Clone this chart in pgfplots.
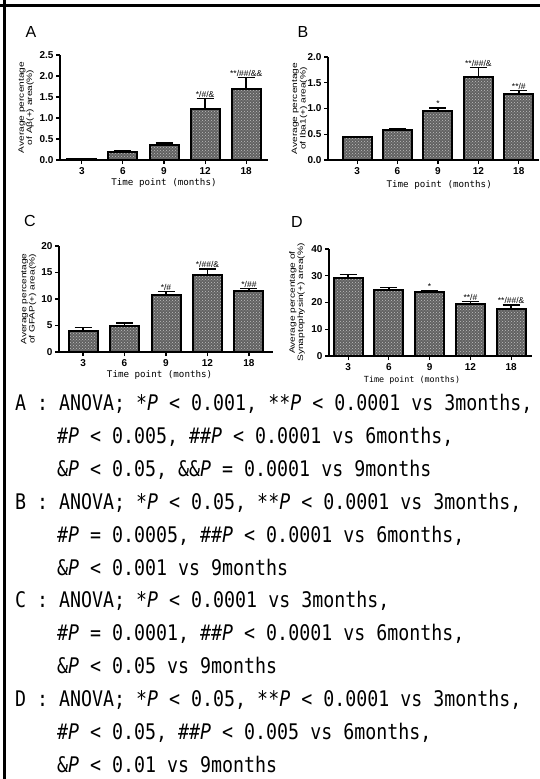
\documentclass[border=0pt]{standalone}
\usepackage{pgfplots}
\pgfplotsset{compat=1.18}
\usetikzlibrary{patterns}
\usepackage{fontspec}
\setmainfont{Liberation Sans}
\newfontfamily\labfont[FakeStretch=1.3]{Liberation Sans}
\newfontfamily\gothic[FakeStretch=0.85]{DejaVu Sans Mono}
\newfontfamily\axmono{DejaVu Sans Mono}

\pgfplotsset{
  panel/.style={
    scale only axis,
    axis lines*=left,
    axis line style={-, line width=1.3pt},
    ymin=0,
    xtick={0,1,2,3,4},
    xticklabels={3,6,9,12,18},
    tick align=outside,
    major tick length=4pt,
    tick style={line width=1.2pt, black},
    ticklabel style={font=\fontsize{10}{10}\selectfont\bfseries},
    yticklabel style={xshift=1pt},
    /pgf/number format/assume math mode=true,
    ylabel style={font=\labfont\fontsize{7.8}{8.3}\selectfont, align=center, anchor=center},
    xlabel style={font=\axmono\fontsize{9.2}{9.5}\selectfont, anchor=center},
    xlabel={Time point (months)},
    clip=false,
  },
  bars/.style={ybar, bar width=29pt, draw=black, line width=2pt,
    fill=black!62, postaction={pattern=crosshatch dots, pattern color=white!75!black},
    error bars/.cd, y dir=plus, y explicit,
    error bar style={line width=1.5pt, black},
    error mark options={rotate=90, mark size=8.5pt, line width=1.5pt, black}},
}
\tikzset{ann/.style={font=\fontsize{8.5}{9}\selectfont, anchor=south, inner sep=1pt}}

\begin{document}
\begin{tikzpicture}
\useasboundingbox (0,0) rectangle (540pt,-779pt);
\draw[line width=3pt] (0,-5pt) -- (540pt,-5pt);
\draw[line width=3pt] (4.5pt,0) -- (4.5pt,-779pt);

% panel letters
\node[font=\fontsize{16}{16}\selectfont] at (31pt,-32pt) {A};
\node[font=\fontsize{16}{16}\selectfont] at (303pt,-32pt) {B};
\node[font=\fontsize{16}{16}\selectfont] at (30pt,-221pt) {C};
\node[font=\fontsize{16}{16}\selectfont] at (297pt,-222pt) {D};

% A
\begin{axis}[panel, at={(60pt,-160pt)}, anchor=south west,
  width=208pt, height=105pt, xmin=-0.53, xmax=4.53,
  ymax=2.5, ytick={0,0.5,1,1.5,2,2.5},
  yticklabel style={/pgf/number format/.cd, fixed, fixed zerofill, precision=1},
  ylabel={Average percentage\\of Aβ(+) area(\%)},
  ylabel style={at={(axis description cs:-0.163,0.5)}},
  xlabel style={at={(axis description cs:0.5,0)}, yshift=-23pt}]
\addplot[bars] coordinates {
  (0,0.02) +- (0,0.01)
  (1,0.18) +- (0,0.03)
  (2,0.36) +- (0,0.04)
  (3,1.21) +- (0,0.25)
  (4,1.69) +- (0,0.27)
};
\node[ann] at (axis cs:3,1.46) {*/\#/\&};
\node[ann] at (axis cs:4,1.96) {**/\#\#/\&\&};
\end{axis}

% B
\begin{axis}[panel, at={(328pt,-160pt)}, anchor=south west,
  width=211pt, height=103pt, xmin=-0.72, xmax=4.5,
  ymax=2.0, ytick={0,0.5,1,1.5,2},
  yticklabel style={/pgf/number format/.cd, fixed, fixed zerofill, precision=1},
  ylabel={Average percentage\\of Iba1(+) area(\%)},
  ylabel style={at={(axis description cs:-0.135,0.5)}},
  xlabel style={at={(axis description cs:0.527,0)}, yshift=-25pt}]
\addplot[bars] coordinates {
  (0,0.45) +- (0,0.01)
  (1,0.58) +- (0,0.03)
  (2,0.95) +- (0,0.06)
  (3,1.61) +- (0,0.19)
  (4,1.28) +- (0,0.07)
};
\node[ann] at (axis cs:2,1.01) {*};
\node[ann] at (axis cs:3,1.80) {**/\#\#/\&};
\node[ann] at (axis cs:4,1.35) {**/\#};
\end{axis}

% C
\begin{axis}[panel, at={(59pt,-352pt)}, anchor=south west,
  width=214pt, height=106pt, xmin=-0.58, xmax=4.58,
  ymax=20, ytick={0,5,10,15,20},
  ylabel={Average percentage\\of GFAP(+) area(\%)},
  ylabel style={at={(axis description cs:-0.142,0.5)}},
  xlabel style={at={(axis description cs:0.47,0)}, yshift=-23pt}]
\addplot[bars] coordinates {
  (0,4.0) +- (0,0.6)
  (1,5.0) +- (0,0.5)
  (2,10.8) +- (0,0.6)
  (3,14.6) +- (0,1.1)
  (4,11.6) +- (0,0.4)
};
\node[ann] at (axis cs:2,11.4) {*/\#};
\node[ann] at (axis cs:3,15.7) {*/\#\#/\&};
\node[ann] at (axis cs:4,12.0) {*/\#\#};
\end{axis}

% D
\begin{axis}[panel, at={(329pt,-356pt)}, anchor=south west,
  width=202.5pt, height=107pt, xmin=-0.47, xmax=4.5,
  ymax=40, ytick={0,10,20,30,40},
  ylabel={Average percentage of\\Synaptophysin(+) area(\%)},
  ylabel style={at={(axis description cs:-0.158,0.5)}},
  xlabel style={font=\axmono\fontsize{8.4}{9}\selectfont, at={(axis description cs:0.41,0)}, yshift=-24pt}]
\addplot[bars] coordinates {
  (0,29.2) +- (0,1.3)
  (1,24.7) +- (0,0.9)
  (2,23.8) +- (0,0.6)
  (3,19.5) +- (0,0.9)
  (4,17.7) +- (0,1.3)
};
\node[ann] at (axis cs:2,24.4) {*};
\node[ann] at (axis cs:3,20.4) {**/\#};
\node[ann] at (axis cs:4,19.0) {**/\#\#/\&};
\end{axis}

% statistics text
\begin{scope}[every node/.style={anchor=base west, inner sep=0pt, font=\gothic\fontsize{21.5}{21.5}\selectfont}]
\node at (15pt,-410.5pt) {A : ANOVA; *\textit{P} < 0.001, **\textit{P} < 0.0001 vs 3months,};
\node at (57pt,-443.4pt) {\#\textit{P} < 0.005, \#\#\textit{P} < 0.0001 vs 6months,};
\node at (57pt,-476.3pt) {\&\textit{P} < 0.05, \&\&\textit{P} = 0.0001 vs 9months};
\node at (15pt,-509.2pt) {B : ANOVA; *\textit{P} < 0.05, **\textit{P} < 0.0001 vs 3months,};
\node at (57pt,-542.1pt) {\#\textit{P} = 0.0005, \#\#\textit{P} < 0.0001 vs 6months,};
\node at (57pt,-575.0pt) {\&\textit{P} < 0.001 vs 9months};
\node at (15pt,-607.9pt) {C : ANOVA; *\textit{P} < 0.0001 vs 3months,};
\node at (57pt,-640.8pt) {\#\textit{P} = 0.0001, \#\#\textit{P} < 0.0001 vs 6months,};
\node at (57pt,-673.7pt) {\&\textit{P} < 0.05 vs 9months};
\node at (15pt,-706.6pt) {D : ANOVA; *\textit{P} < 0.05, **\textit{P} < 0.0001 vs 3months,};
\node at (57pt,-739.5pt) {\#\textit{P} < 0.05, \#\#\textit{P} < 0.005 vs 6months,};
\node at (57pt,-772.4pt) {\&\textit{P} < 0.01 vs 9months};
\end{scope}
\end{tikzpicture}
\end{document}
